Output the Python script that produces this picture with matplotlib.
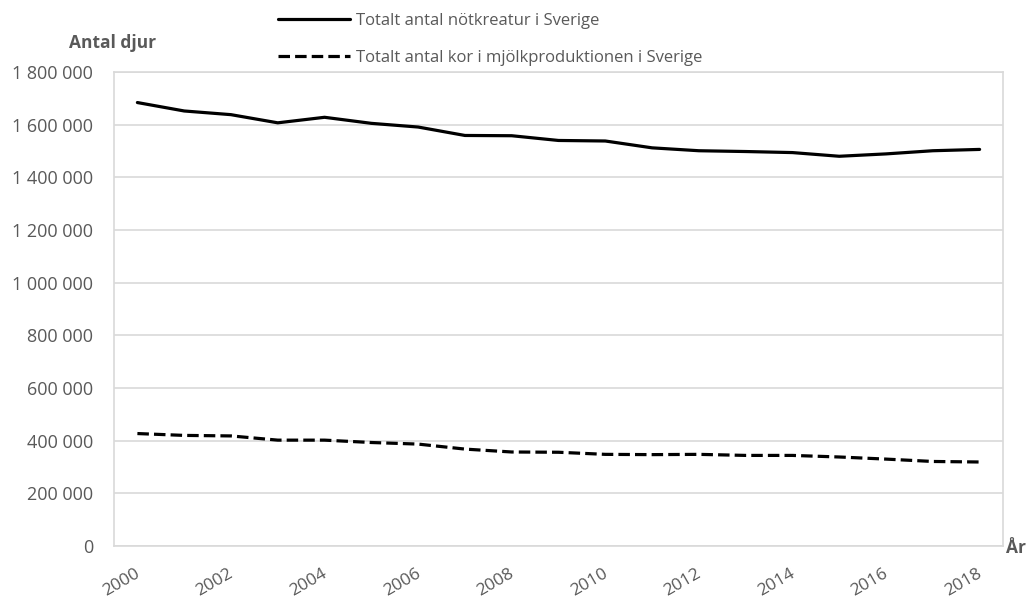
import numpy as np
import matplotlib
matplotlib.use("Agg")
import matplotlib.pyplot as plt
from matplotlib.ticker import FuncFormatter
from matplotlib.transforms import ScaledTranslation

years = list(range(2000, 2019))
notkreatur = [1684000, 1652000, 1638000, 1607000, 1628000, 1605000, 1591000, 1559000,
              1558000, 1540000, 1538000, 1512000, 1501000, 1498000, 1494000, 1480000,
              1489000, 1501000, 1506000]
mjolkkor = [427000, 420000, 418000, 402000, 402000, 393000, 387000, 368000, 357000,
            356000, 348000, 347000, 348000, 344000, 344000, 338000, 330000, 321000, 319000]
series_labels = ["Totalt antal nötkreatur i Sverige",
                 "Totalt antal kor i mjölkproduktionen i Sverige"]
y_ticks = list(range(0, 1800001, 200000))
x_tick_years = [y for y in years if y % 2 == 0]

plt.rcParams['font.family'] = ['Open Sans', 'DejaVu Sans']
TXT = '#595959'
GRID = '#d9d9d9'

fig = plt.figure(figsize=(10.28, 5.98), dpi=100)
W, H = 1028, 598
left, right, top, bottom = 114, 1003, 72, 546
ax = fig.add_axes([left / W, 1 - bottom / H, (right - left) / W, (bottom - top) / H])

x = np.arange(len(years))
l1, = ax.plot(x, notkreatur, color='black', lw=2.3, solid_capstyle='round',
              solid_joinstyle='round', label=series_labels[0])
l2, = ax.plot(x, mjolkkor, color='black', lw=2.3, linestyle=(0, (3.6, 1.6)),
              dash_capstyle='butt', label=series_labels[1])

ax.set_xlim(-0.5, len(years) - 0.5)
ax.set_ylim(0, 1800000)
ax.set_yticks(y_ticks)
ax.yaxis.set_major_formatter(FuncFormatter(lambda v, p: f"{v:,.0f}".replace(",", " ")))
ax.set_xticks([years.index(y) for y in x_tick_years])
ax.set_xticklabels([str(y) for y in x_tick_years])
ax.grid(axis='y', color=GRID, lw=1.2)
ax.set_axisbelow(True)
for s in ax.spines.values():
    s.set_color(GRID)
    s.set_linewidth(1.2)
ax.tick_params(axis='both', length=0, colors=TXT)
ax.tick_params(axis='y', pad=15, labelsize=13)
ax.tick_params(axis='x', pad=14, labelsize=12.5)
shift = ScaledTranslation(-2 / 72, 0, fig.dpi_scale_trans)
for lab in ax.get_xticklabels():
    lab.set_rotation(30)
    lab.set_ha('right')
    lab.set_va('top')
    lab.set_rotation_mode('anchor')
    lab.set_transform(lab.get_transform() + shift)

fig.text(113 / W, 1 - 43 / H, "Antal djur", ha='center', va='center',
         fontsize=12.5, fontweight='bold', color=TXT)
fig.text(1006 / W, 1 - 548 / H, "År", ha='left', va='center',
         fontsize=12.5, fontweight='bold', color=TXT)

leg = fig.legend(handles=[l1, l2], loc='upper left', bbox_to_anchor=(278 / W, 1 - 13 / H),
                 frameon=False, fontsize=12, handlelength=4.3, handletextpad=0.4,
                 labelspacing=1.25, borderpad=0, borderaxespad=0)
for t in leg.get_texts():
    t.set_color(TXT)

fig.savefig("out.png", dpi=100)
